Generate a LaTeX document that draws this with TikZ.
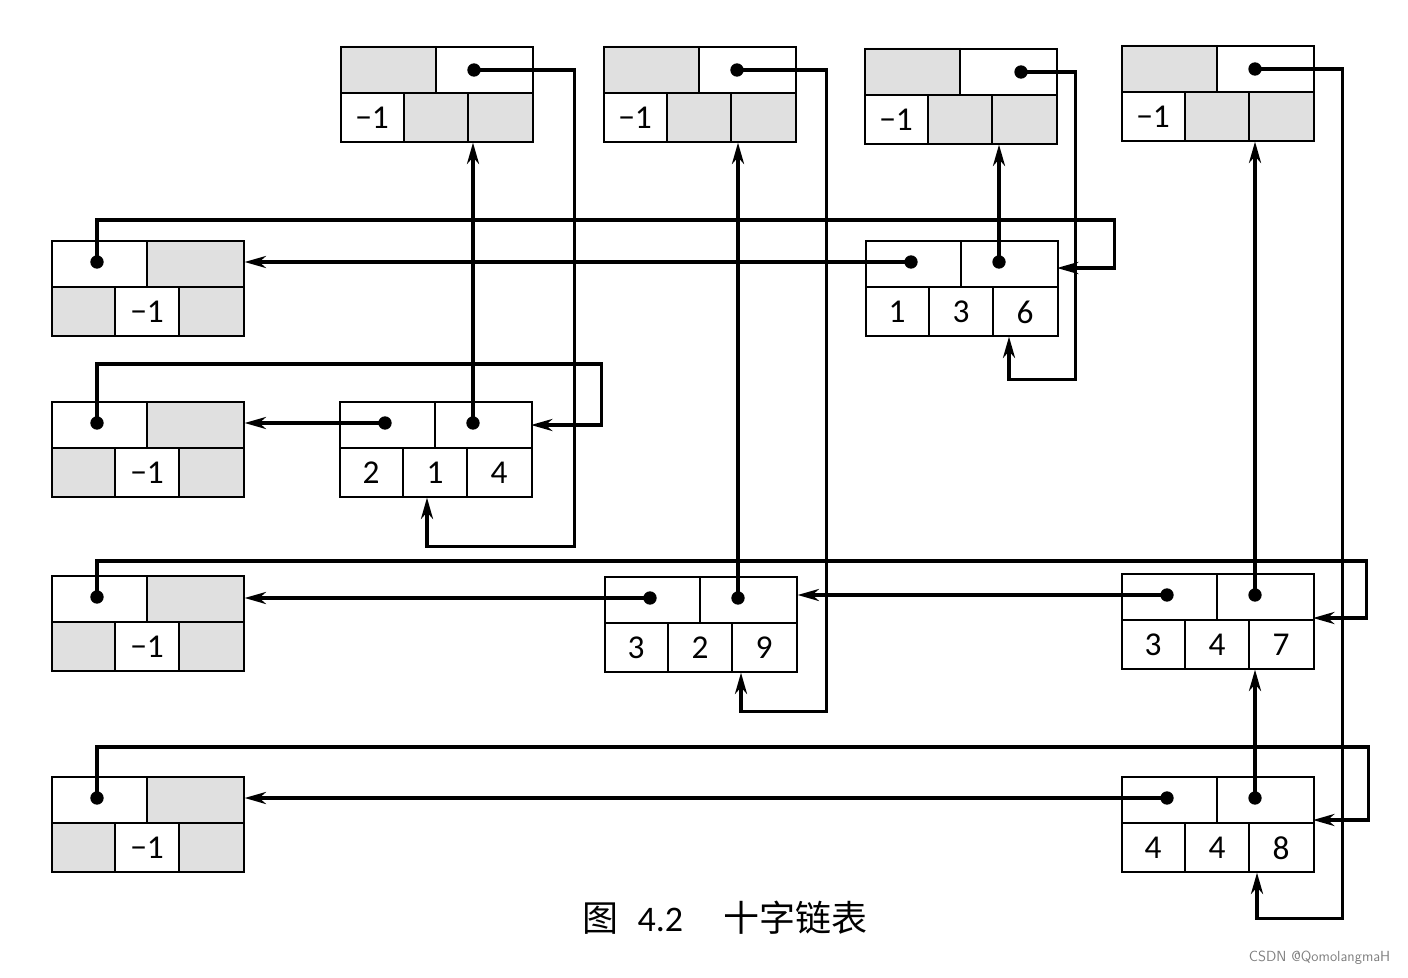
\documentclass[tikz,border=0pt]{standalone}
\usepackage{fontspec}
\setmainfont{Carlito}
\newfontfamily\cjk{Noto Sans CJK SC}
\usetikzlibrary{arrows.meta,calc}
\definecolor{cellgray}{HTML}{E0E0E0}
\newcommand\myboxframe[3]{%
  \node[draw,ln,minimum width=144pt,minimum height=71.25pt,inner sep=0pt,anchor=north west] (#1) at (#2,#3) {};
  \draw[ln] (#2,#3+47) -- ++(192,0) (#2+96,#3) -- ++(0,47) (#2+64,#3+47) -- ++(0,48) (#2+128,#3+47) -- ++(0,48);
  \coordinate (#1-l) at (#2+46,#3+22);
  \coordinate (#1-r) at (#2+134,#3+22);
  \coordinate (#1-e) at (#2+192,#3+24);
  \coordinate (#1-w) at (#2,#3+24);}
\newcommand\mychead[4]{%
  \fill[cellgray] (#2,#3) rectangle ++(96,47) (#2+64,#3+47) rectangle ++(128,48);
  \myboxframe{#1}{#2}{#3}
  \node[txt] at (#2+32,#3+72) {\symbol{"2212}1};
  \node[dot] (#1-d) at (#2+#4,#3+24) {};}
\newcommand\myrhead[3]{%
  \fill[cellgray] (#2+96,#3) rectangle ++(96,47) (#2,#3+47) rectangle ++(64,48) (#2+128,#3+47) rectangle ++(64,48);
  \myboxframe{#1}{#2}{#3}
  \node[txt] at (#2+96,#3+72) {\symbol{"2212}1};
  \node[dot] (#1-d) at (#1-l) {};}
\newcommand\myelem[6]{%
  \myboxframe{#1}{#2}{#3}
  \node[txt] at (#2+32,#3+72) {#4};
  \node[txt] at (#2+96,#3+72) {#5};
  \node[txt] at (#2+160,#3+72) {#6};
  \node[dot] (#1-dl) at (#1-l) {};
  \node[dot] (#1-dr) at (#1-r) {};}
\begin{document}
\begin{tikzpicture}[x=0.75pt,y=-0.75pt,
  ln/.style={line width=1.2pt},
  arr/.style={line width=2.6pt,-{Stealth[length=16pt,width=9pt,inset=5pt]}},
  dot/.style={circle,fill,inner sep=0pt,minimum size=10pt},
  txt/.style={font=\fontsize{25}{27}\selectfont}]
\useasboundingbox (0,0) rectangle (1408,977);
% column heads
\mychead{H1}{340}{46}{134}
\mychead{H2}{603}{46}{134}
\mychead{H3}{864}{48}{157}
\mychead{H4}{1121}{45}{134}
% row heads
\myrhead{R1}{51}{240}
\myrhead{R2}{51}{401}
\myrhead{R3}{51}{575}
\myrhead{R4}{51}{776}
% elements
\myelem{E136}{865}{240}{1}{3}{6}
\myelem{E214}{339}{401}{2}{1}{4}
\myelem{E329}{604}{576}{3}{2}{9}
\myelem{E347}{1121}{573}{3}{4}{7}
\myelem{E448}{1121}{776}{4}{4}{8}
% column 1
\draw[arr] (H1-d.center) -| ($(E214.south east)+(42,49)$) -| ($(E214.south west)+(88,0)$);
\draw[arr] (E214-r) -- (E214-r |- H1.south);
% column 2
\draw[arr] (H2-d.center) -| ($(E329.south east)+(29,39)$) -| ($(E329.south west)+(137,0)$);
\draw[arr] (E329-r) -- (E329-r |- H2.south);
% column 3
\draw[arr] (H3-d.center) -| ($(E136.south east)+(17,43)$) -| ($(E136.south west)+(144,0)$);
\draw[arr] (E136-r) -- (E136-r |- H3.south);
% column 4
\draw[arr] (H4-d.center) -| ($(E448.south east)+(28,46)$) -| ($(E448.south west)+(136,0)$);
\draw[arr] (E448-r) -- (E448-r |- E347.south);
\draw[arr] (E347-r) -- (E347-r |- H4.south);
% row 1
\draw[arr] (R1-l) |- ($(E136.north east)+(56,-20)$) |- ($(E136-e)+(0,4)$);
\draw[arr] (E136-l) -- (E136-l -| R1.east);
% row 2
\draw[arr] (R2-l) |- ($(E214.north east)+(69,-37)$) |- (E214-e);
\draw[arr] (E214-l) -- (E214-l -| R2.east);
% row 3
\draw[arr] (R3-l) |- ($(E347.north east)+(52,-12)$) |- ($(E347-e)+(0,21)$);
\draw[arr] (E347-l) -- (E347-l -| E329.east);
\draw[arr] (E329-l) -- (E329-l -| R3.east);
% row 4
\draw[arr] (R4-l) |- ($(E448.north east)+(54,-29)$) |- ($(E448-e)+(0,20)$);
\draw[arr] (E448-l) -- (E448-l -| R4.east);
% caption
\node[font=\fontsize{27}{30}\selectfont] (cap) at (725,918) {{\cjk 图}\hspace{14pt}4.2\hspace{30pt}{\cjk 十字链表}};
\node[font=\fontsize{11}{12}\selectfont\sffamily,text=gray,anchor=east] (wm) at (1395,958) {CSDN @QomolangmaH};
\end{tikzpicture}
\end{document}
